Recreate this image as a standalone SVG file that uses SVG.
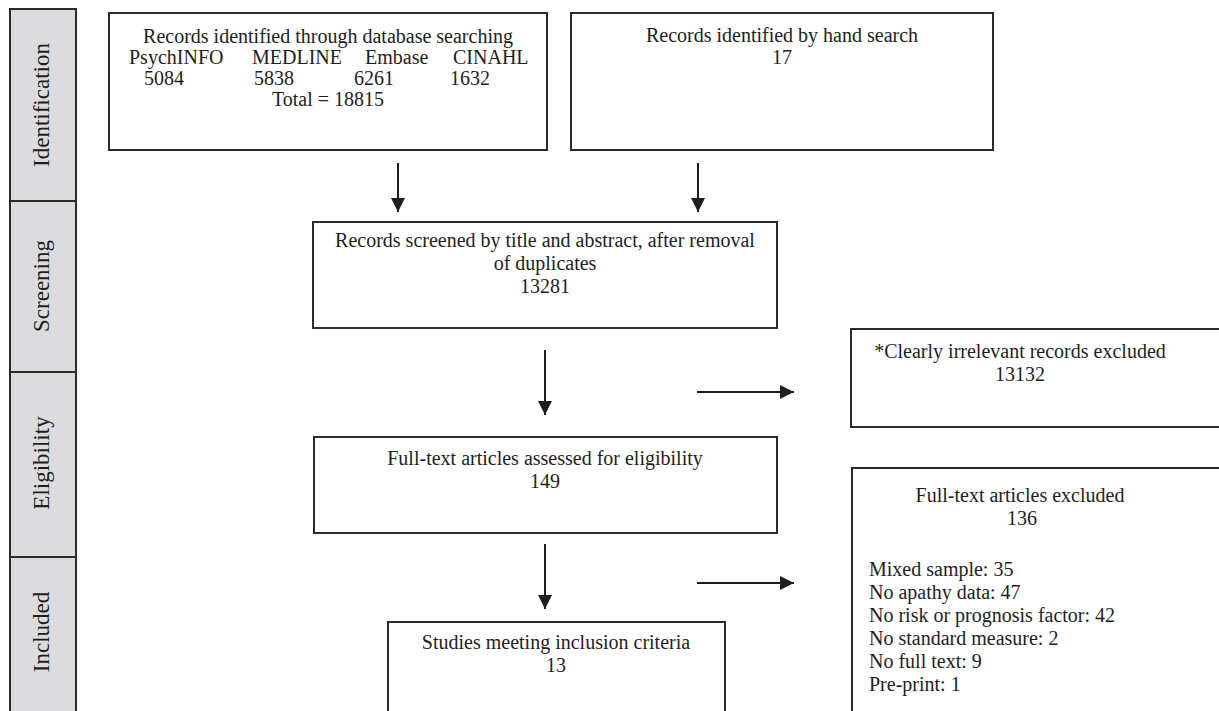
<svg xmlns="http://www.w3.org/2000/svg" width="1219" height="711" viewBox="0 0 1219 711">
<defs>
<style>
.box{fill:#fff;stroke:#2b2b2b;stroke-width:2}
.stage{fill:#dcdcde;stroke:#2b2b2b;stroke-width:2}
text{font-family:"Liberation Serif","Times New Roman",serif;font-size:20px;fill:#1e1e1e}
.lbl{font-size:23px;text-anchor:middle}
.c{text-anchor:middle}
.conn{stroke:#1e1e1e;stroke-width:2;fill:none;marker-end:url(#ah)}
</style>
<marker id="ah" viewBox="0 0 10 10" refX="10" refY="5" markerUnits="userSpaceOnUse" markerWidth="15" markerHeight="14" orient="auto">
<path d="M0,0 L10,5 L0,10 Z" fill="#1e1e1e"/>
</marker>
</defs>
<rect width="1219" height="711" fill="#fff"/>
<g id="stage-identification"><rect class="stage" x="10" y="9" width="66" height="192"/><text class="lbl" transform="translate(49,105) rotate(-90)">Identification</text></g>
<g id="stage-screening"><rect class="stage" x="10" y="201" width="66" height="171"/><text class="lbl" transform="translate(49,286) rotate(-90)">Screening</text></g>
<g id="stage-eligibility"><rect class="stage" x="10" y="372" width="66" height="185"/><text class="lbl" transform="translate(49,463) rotate(-90)">Eligibility</text></g>
<g id="stage-included"><rect class="stage" x="10" y="557" width="66" height="170"/><text class="lbl" transform="translate(49,632) rotate(-90)">Included</text></g>
<g id="n-database"><rect class="box" x="109" y="13" width="438" height="137"/>
<text class="c" x="328" y="43">Records identified through database searching</text>
<text x="129" y="64">PsychINFO</text><text x="252" y="64">MEDLINE</text><text x="365" y="64">Embase</text><text x="453" y="64">CINAHL</text>
<text x="144" y="85">5084</text><text x="254" y="85">5838</text><text x="354" y="85">6261</text><text x="450" y="85">1632</text>
<text class="c" x="328" y="106">Total = 18815</text></g>
<g id="n-hand"><rect class="box" x="571" y="13" width="422" height="137"/>
<text class="c" x="782" y="42">Records identified by hand search</text>
<text class="c" x="782" y="64">17</text></g>
<g id="n-screened"><rect class="box" x="313" y="222" width="464" height="106"/>
<text class="c" x="545" y="247">Records screened by title and abstract, after removal</text>
<text class="c" x="545" y="270">of duplicates</text>
<text class="c" x="545" y="293">13281</text></g>
<g id="n-irrelevant"><rect class="box" x="851" y="329" width="390" height="98"/>
<text class="c" x="1020" y="358">*Clearly irrelevant records excluded</text>
<text class="c" x="1020" y="381">13132</text></g>
<g id="n-fulltext"><rect class="box" x="314" y="437" width="463" height="96"/>
<text class="c" x="545" y="465">Full-text articles assessed for eligibility</text>
<text class="c" x="545" y="488">149</text></g>
<g id="n-excluded"><rect class="box" x="852" y="468" width="390" height="260"/>
<text class="c" x="1020" y="502">Full-text articles excluded</text>
<text class="c" x="1022" y="525">136</text>
<text x="869" y="576">Mixed sample: 35</text>
<text x="869" y="599">No apathy data: 47</text>
<text x="869" y="622">No risk or prognosis factor: 42</text>
<text x="869" y="645">No standard measure: 2</text>
<text x="869" y="668">No full text: 9</text>
<text x="869" y="691">Pre-print: 1</text></g>
<g id="n-included"><rect class="box" x="388" y="622" width="337" height="110"/>
<text class="c" x="556" y="649">Studies meeting inclusion criteria</text>
<text class="c" x="556" y="672">13</text></g>
<g id="connectors">
<line class="conn" x1="398" y1="163" x2="398" y2="212"/>
<line class="conn" x1="698" y1="163" x2="698" y2="212"/>
<line class="conn" x1="545" y1="350" x2="545" y2="415"/>
<line class="conn" x1="545" y1="544" x2="545" y2="609"/>
<line class="conn" x1="697" y1="392" x2="794" y2="392"/>
<line class="conn" x1="697" y1="583" x2="794" y2="583"/>
</g>
</svg>
